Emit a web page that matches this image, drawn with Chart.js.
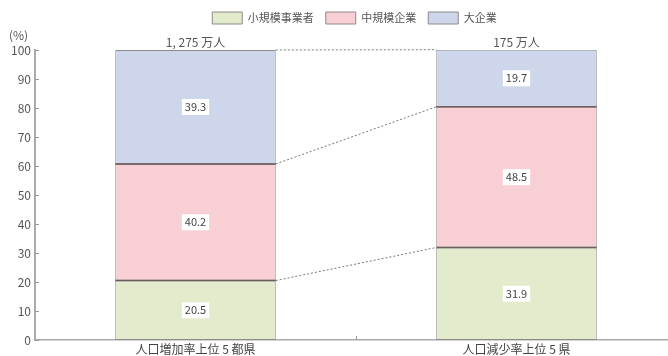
<!DOCTYPE html>
<html>
<head>
<meta charset="utf-8">
<script src="https://cdn.jsdelivr.net/npm/chart.js@4.4.1/dist/chart.umd.min.js"></script>
<style>
html, body { margin: 0; padding: 0; background: #fff; overflow: hidden; }
#wrap { position: relative; width: 710px; height: 356px; }
</style>
</head>
<body>
<div id="wrap"><canvas id="chart"></canvas></div>
<script>
// 企業規模別の従業者構成（%）
var categories = ['人口増加率上位 5 都県', '人口減少率上位 5 県'];
var totals = ['1, 275 万人', '175 万人'];
var seriesNames = ['小規模事業者', '中規模企業', '大企業'];
var smallBiz = [20.5, 31.9];
var midBiz = [40.2, 48.5];
var largeBiz = [39.3, 19.7];
var yTicks = [0, 10, 20, 30, 40, 50, 60, 70, 80, 90, 100];

var FONT = "'Noto Sans CJK JP', 'Noto Sans', sans-serif";
var TEXT = '#555';
var OUTLINE = '#8e8a8a';

function cumulative(i, upto)
{
    var sets = [smallBiz, midBiz, largeBiz];
    var sum = 0;
    for (var k = 0; k < upto; k++)
        sum += sets[k][i];
    return sum;
}

// leave room under the legend for the totals row, and nudge it right
var legendGap = {
    id: 'legendGap',
    beforeInit: function(chart) {
        var fit = chart.legend.fit;
        chart.legend.fit = function() {
            fit.bind(chart.legend)();
            this.height += 16;
        };
    },
    afterLayout: function(chart) {
        chart.legend.left += 16;
        chart.legend.right += 16;
    }
};

var extras = {
    id: 'extras',
    afterDatasetsDraw: function(chart) {
        var ctx = chart.ctx;
        var area = chart.chartArea;
        var y = chart.scales.y;
        var x = chart.scales.x;

        ctx.save();

        // inner tick marks on the axes
        ctx.strokeStyle = '#999';
        ctx.lineWidth = 1;
        yTicks.forEach(function(v) {
            var py = Math.round(y.getPixelForValue(v)) + 0.5;
            ctx.beginPath();
            ctx.moveTo(area.left, py);
            ctx.lineTo(area.left + 4, py);
            ctx.stroke();
        });
        var mid = Math.round((x.getPixelForValue(0) + x.getPixelForValue(1)) / 2) + 0.5;
        ctx.beginPath();
        ctx.moveTo(mid, area.bottom);
        ctx.lineTo(mid, area.bottom - 4);
        ctx.stroke();

        // darker dividers between stacked segments
        var m0 = chart.getDatasetMeta(0);
        var m1 = chart.getDatasetMeta(1);
        ctx.strokeStyle = '#6e5f5f';
        ctx.lineWidth = 1.5;
        [m0, m1].forEach(function(meta) {
            meta.data.forEach(function(el) {
                ctx.beginPath();
                ctx.moveTo(el.x - el.width / 2, el.y);
                ctx.lineTo(el.x + el.width / 2, el.y);
                ctx.stroke();
            });
        });

        // dotted connectors between the two bars
        var left = m0.data[0];
        var right = m0.data[1];
        var x1 = left.x + left.width / 2;
        var x2 = right.x - right.width / 2;
        ctx.strokeStyle = '#777';
        ctx.lineWidth = 1;
        ctx.setLineDash([2, 2]);
        [1, 2, 3].forEach(function(k) {
            ctx.beginPath();
            ctx.moveTo(x1, y.getPixelForValue(cumulative(0, k)));
            ctx.lineTo(x2, y.getPixelForValue(cumulative(1, k)));
            ctx.stroke();
        });
        ctx.setLineDash([]);

        // value labels in white boxes
        ctx.font = '11px ' + FONT;
        ctx.textAlign = 'center';
        ctx.textBaseline = 'middle';
        chart.data.datasets.forEach(function(ds, di) {
            chart.getDatasetMeta(di).data.forEach(function(el, i) {
                var txt = ds.data[i].toFixed(1);
                var cy = (el.y + el.base) / 2;
                var w = ctx.measureText(txt).width + 6;
                ctx.fillStyle = '#fff';
                ctx.fillRect(el.x - w / 2, cy - 8, w, 16);
                ctx.fillStyle = '#444';
                ctx.fillText(txt, el.x, cy);
            });
        });

        // totals above the bars
        ctx.font = '12px ' + FONT;
        ctx.fillStyle = TEXT;
        ctx.textBaseline = 'bottom';
        m0.data.forEach(function(el, i) {
            ctx.fillText(totals[i], el.x, area.top - 2);
        });

        // unit label
        ctx.textAlign = 'left';
        ctx.fillText('(%)', 9, 41);

        ctx.restore();
    }
};

new Chart(document.getElementById('chart'), {
    type: 'bar',
    data: {
        labels: categories,
        datasets: [
            { label: seriesNames[0], data: smallBiz, backgroundColor: '#e2ebcb' },
            { label: seriesNames[1], data: midBiz, backgroundColor: '#f9cfd6' },
            { label: seriesNames[2], data: largeBiz, backgroundColor: '#cdd6ea' }
        ].map(function(ds) {
            ds.borderColor = OUTLINE;
            ds.borderWidth = 1;
            ds.borderSkipped = false;
            ds.barPercentage = 0.5;
            ds.categoryPercentage = 1;
            return ds;
        })
    },
    options: {
        responsive: true,
        maintainAspectRatio: false,
        animation: false,
        layout: { padding: { top: 0, right: 33, left: 0, bottom: 0 } },
        plugins: {
            legend: {
                position: 'top',
                labels: {
                    boxWidth: 30,
                    boxHeight: 12,
                    color: TEXT,
                    font: { family: FONT, size: 11 },
                    padding: 12
                }
            },
            tooltip: { enabled: false }
        },
        scales: {
            x: {
                stacked: true,
                grid: { display: false, drawTicks: false },
                border: { color: '#aaa', width: 1.5 },
                ticks: { color: '#444', font: { family: FONT, size: 12 }, padding: 2 },
                afterFit: function(s) { s.height = 16; }
            },
            y: {
                stacked: true,
                min: 0,
                max: 100,
                grid: { display: false, drawTicks: false },
                border: { color: '#aaa', width: 2 },
                ticks: { stepSize: 10, color: TEXT, font: { family: FONT, size: 12 }, padding: 4 },
                afterFit: function(s) { s.width = 35; }
            }
        }
    },
    plugins: [legendGap, extras]
});
</script>
</body>
</html>
